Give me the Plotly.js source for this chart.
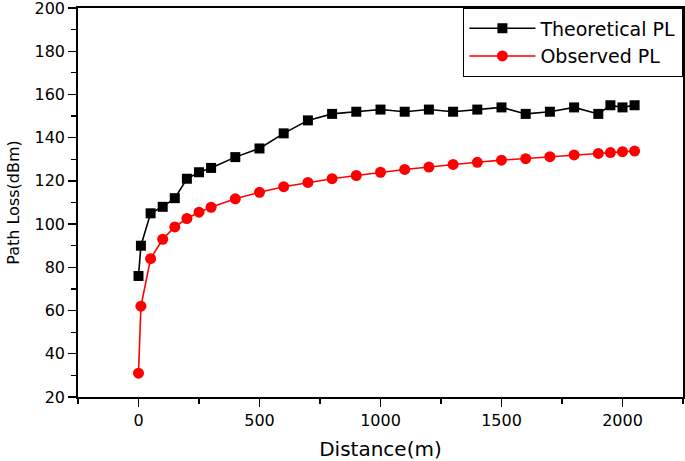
<!DOCTYPE html>
<html>
<head>
<meta charset="utf-8">
<script src="https://cdn.plot.ly/plotly-3.0.1.min.js"></script>
<style>
  html, body { margin: 0; padding: 0; background: #fff; }
  #chart { width: 685px; height: 461px; }
</style>
</head>
<body>
<div id="chart"></div>
<script>
// Path loss vs distance.
const distance = [0, 10, 50, 100, 150, 200, 250, 300, 400, 500, 600, 700, 800, 900,
  1000, 1100, 1200, 1300, 1400, 1500, 1600, 1700, 1800, 1900, 1950, 2000, 2050];
const theoreticalPL = [76, 90, 105, 108, 112, 121, 124, 126, 131, 135, 142, 148, 151, 152,
  153, 152, 153, 152, 153, 154, 151, 152, 154, 151, 155, 154, 155];
const observedPL = [31, 62, 84, 93, 98.7, 102.6, 105.5, 107.8, 111.7, 114.7, 117.3, 119.3, 121, 122.5,
  124, 125.3, 126.4, 127.6, 128.6, 129.6, 130.3, 131.2, 132, 132.7, 133.1, 133.5, 133.8];
const yTicks = [20, 40, 60, 80, 100, 120, 140, 160, 180, 200];

const FONT = "DejaVu Sans, Liberation Sans, Arial, sans-serif";

const traces = [
  {
    x: distance,
    y: theoreticalPL,
    type: "scatter",
    mode: "lines+markers",
    name: "Theoretical PL",
    line: { color: "#000000", width: 1.6 },
    marker: { symbol: "square", color: "#000000", size: 10 },
  },
  {
    x: distance,
    y: observedPL,
    type: "scatter",
    mode: "lines+markers",
    name: "Observed PL",
    line: { color: "#ff0000", width: 1.6 },
    marker: { symbol: "circle", color: "#ff0000", size: 11 },
  },
];

// shared axis look: black frame, outside ticks, minor ticks between majors
const axisBase = {
  showgrid: false,
  zeroline: false,
  showline: true,
  linecolor: "#000",
  linewidth: 1.8,
  mirror: true,
  ticks: "outside",
  ticklen: 8,
  tickwidth: 1.4,
  tickcolor: "#000",
  ticklabeloverflow: "allow",
  tickfont: { family: FONT, size: 16, color: "#000" },
};

const layout = {
  width: 685,
  height: 461,
  margin: { l: 78, r: 2, t: 8, b: 64 },
  paper_bgcolor: "#fff",
  plot_bgcolor: "#fff",
  font: { family: FONT, color: "#000" },
  xaxis: {
    ...axisBase,
    range: [-250, 2250],
    tick0: 0,
    dtick: 500,
    minor: { dtick: 250, ticks: "outside", ticklen: 5, tickwidth: 1.2, tickcolor: "#000" },
    title: { text: "Distance(m)", font: { family: FONT, size: 20 }, standoff: 14 },
  },
  yaxis: {
    ...axisBase,
    range: [19.999, 200.001],
    tickmode: "array",
    tickvals: yTicks,
    ticktext: yTicks.map(String),
    minor: { tick0: 10, dtick: 10, ticks: "outside", ticklen: 5, tickwidth: 1.2, tickcolor: "#000" },
    title: { text: "Path Loss(dBm)", font: { family: FONT, size: 16 }, standoff: 11 },
  },
  legend: {
    x: 1,
    y: 1,
    xanchor: "right",
    yanchor: "top",
    bgcolor: "#fff",
    bordercolor: "#000",
    borderwidth: 1.4,
    itemwidth: 66,
    tracegroupgap: 0,
    font: { family: FONT, size: 19, color: "#000" },
  },
  showlegend: true,
};

Plotly.newPlot("chart", traces, layout, { displayModeBar: false, staticPlot: true });
</script>
</body>
</html>
